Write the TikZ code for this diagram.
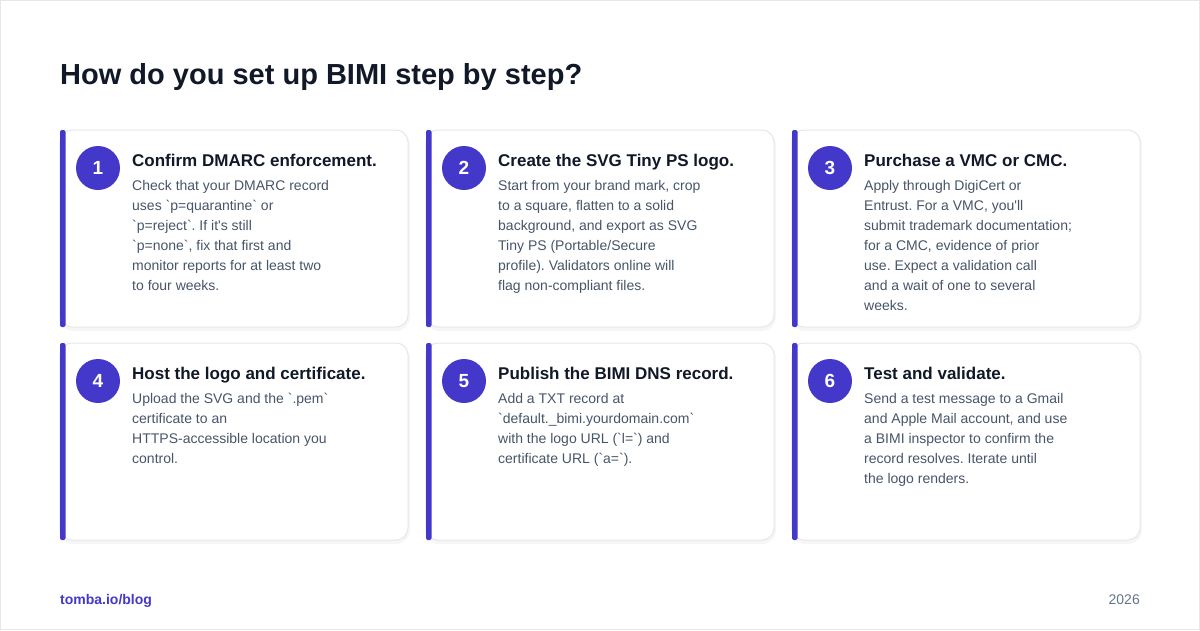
\documentclass[tikz,border=0pt]{standalone}
\usepackage{fontspec}
\setmainfont{Liberation Sans}
\frenchspacing
\definecolor{indigo}{HTML}{4338CA}
\definecolor{ink}{HTML}{111827}
\definecolor{bodyc}{HTML}{475569}
\definecolor{mutedc}{HTML}{64748B}
\definecolor{linec}{HTML}{E5E7EB}
\newcommand\bq{\textasciigrave}
\newcommand\ap{\textquotesingle}
\tikzset{
  cardbox/.style={draw=linec, line width=1pt, fill=white, rounded corners=12pt},
  cardshadow/.style={fill=black, fill opacity=0.035, draw=none, rounded corners=14pt},
  cardbar/.style={fill=indigo, draw=none, rounded corners=2pt},
  numdot/.style={circle, fill=indigo, draw=none, minimum size=44pt, inner sep=0pt, text=white, font=\fontsize{19}{22}\selectfont\bfseries},
  cardtitle/.style={anchor=base west, inner sep=0pt, text=ink, font=\fontsize{17}{21}\selectfont\bfseries},
  cardbody/.style={anchor=north west, inner sep=0pt, align=left, text=bodyc, font=\fontsize{14}{20}\selectfont},
}
\newcommand\stepcard[6]{%
  \fill[cardshadow] (#2-1,#3+1) rectangle (#2+350,#3+201);
  \draw[cardbox] (#2,#3) rectangle (#2+348,#3+197);
  \fill[cardbar] (#2,#3) rectangle (#2+5.5,#3+197);
  \node[numdot] (n#1) at (#2+38,#3+38) {#4};
  \node[cardtitle] (t#1) at (#2+72,#3+36) {#5};
  \node[cardbody] (b#1) at (#2+72,#3+60.5-14) {\strut #6};
}
\begin{document}
\begin{tikzpicture}[x=1pt,y=-1pt]
\useasboundingbox (0,0) rectangle (1200,630);
\draw[linec, line width=1pt, fill=white] (0.5,0.5) rectangle (1199.5,629.5);
\node[anchor=base west, inner sep=0pt, text=ink, font=\fontsize{29}{34}\selectfont\bfseries] (head) at (60,84.3) {How do you set up BIMI step by step?};
\stepcard{1}{60}{130}{1}{Confirm DMARC enforcement.}{Check that your DMARC record\\uses \bq p=quarantine\bq{} or\\\bq p=reject\bq. If it\ap s still\\\bq p=none\bq, fix that first and\\monitor reports for at least two\\to four weeks.}
\stepcard{2}{426}{130}{2}{Create the SVG Tiny PS logo.}{Start from your brand mark, crop\\to a square, flatten to a solid\\background, and export as SVG\\Tiny PS (Portable/Secure\\profile). Validators online will\\flag non-compliant files.}
\stepcard{3}{792}{130}{3}{Purchase a VMC or CMC.}{Apply through DigiCert or\\Entrust. For a VMC, you\ap ll\\submit trademark documentation;\\for a CMC, evidence of prior\\use. Expect a validation call\\and a wait of one to several\\weeks.}
\stepcard{4}{60}{343}{4}{Host the logo and certificate.}{Upload the SVG and the \bq.pem\bq\\certificate to an\\HTTPS-accessible location you\\control.}
\stepcard{5}{426}{343}{5}{Publish the BIMI DNS record.}{Add a TXT record at\\\bq default.\_bimi.yourdomain.com\bq\\with the logo URL (\bq l=\bq) and\\certificate URL (\bq a=\bq).}
\stepcard{6}{792}{343}{6}{Test and validate.}{Send a test message to a Gmail\\and Apple Mail account, and use\\a BIMI inspector to confirm the\\record resolves. Iterate until\\the logo renders.}
\node[anchor=base west, inner sep=0pt, text=indigo, font=\fontsize{14}{17}\selectfont\bfseries] (site) at (60,604) {tomba.io/blog};
\node[anchor=base east, inner sep=0pt, text=mutedc, font=\fontsize{14}{17}\selectfont] (year) at (1140,604) {2026};
\end{tikzpicture}
\end{document}
